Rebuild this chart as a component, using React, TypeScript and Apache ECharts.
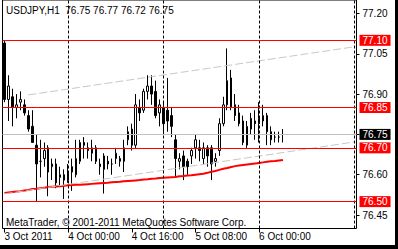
import React, { useEffect, useRef } from "react";
import * as echarts from "echarts";

const FONT = "'Liberation Sans', Arial, sans-serif";

// hourly bars starting 3 Oct 2011 08:00 (89 slots incl. chart shift)
const N_SLOTS = 89;
const CATEGORIES: string[] = [];
for (let i = 0; i < N_SLOTS; i++) CATEGORIES.push("bar " + i);

const X_TICK_INDEX = [0, 16, 32, 48, 64];
const X_TICK_LABELS = ["3 Oct 2011", "4 Oct 00:00", "4 Oct 16:00", "5 Oct 08:00", "6 Oct 00:00"];
const SEPARATORS = [16, 40, 64, 88];

const Y_LABELS = [76.45, 76.6, 76.9, 77.05, 77.2];
const Y_TICKS = [76.45, 76.6, 76.75, 76.9, 77.05, 77.2];
const Y_MIN = 76.4;
const Y_MAX = 77.25;

const LEVELS = [77.1, 76.85, 76.7, 76.5];
const BID = 76.75;
const UPPER_TREND = [[6, 76.897], [88, 77.076]];
const LOWER_TREND = [[0, 76.529], [88, 76.722]];

const OPEN = [
  77.09, 76.88, 76.89, 76.85, 76.87, 76.86, 76.82, 76.78, 76.71, 76.65,
  76.66, 76.70, 76.63, 76.64, 76.59, 76.60, 76.58, 76.61, 76.60, 76.65,
  76.72, 76.70, 76.68, 76.70, 76.64, 76.62, 76.65, 76.64, 76.66, 76.66,
  76.65, 76.73, 76.77, 76.71, 76.85, 76.84, 76.91, 76.93, 76.91, 76.83,
  76.85, 76.84, 76.82, 76.73, 76.65, 76.67, 76.65, 76.67, 76.70, 76.70,
  76.66, 76.70, 76.70, 76.65, 76.69, 76.79, 76.86, 76.96, 76.86, 76.83,
  76.80, 76.71, 76.77, 76.80, 76.79, 76.80, 76.82, 76.76, 76.74, 76.74,
  76.75,
];
const CLOSE = [
  76.88, 76.93, 76.85, 76.86, 76.88, 76.83, 76.77, 76.72, 76.64, 76.65,
  76.69, 76.61, 76.64, 76.57, 76.60, 76.58, 76.61, 76.63, 76.66, 76.72,
  76.71, 76.69, 76.70, 76.65, 76.63, 76.67, 76.64, 76.64, 76.68, 76.65,
  76.70, 76.76, 76.71, 76.86, 76.83, 76.91, 76.93, 76.90, 76.82, 76.86,
  76.79, 76.80, 76.78, 76.66, 76.66, 76.63, 76.63, 76.69, 76.73, 76.69,
  76.70, 76.67, 76.64, 76.66, 76.79, 76.86, 76.95, 76.85, 76.82, 76.79,
  76.72, 76.78, 76.81, 76.79, 76.81, 76.82, 76.76, 76.73, 76.74, 76.74,
  76.75,
];
const LOW = [
  76.87, 76.80, 76.78, 76.81, 76.84, 76.82, 76.76, 76.72, 76.50, 76.59,
  76.63, 76.52, 76.58, 76.55, 76.56, 76.51, 76.57, 76.54, 76.59, 76.64,
  76.66, 76.66, 76.65, 76.64, 76.60, 76.53, 76.62, 76.60, 76.64, 76.63,
  76.61, 76.71, 76.69, 76.70, 76.80, 76.83, 76.88, 76.86, 76.81, 76.78,
  76.75, 76.76, 76.74, 76.59, 76.62, 76.58, 76.60, 76.64, 76.66, 76.65,
  76.64, 76.63, 76.58, 76.63, 76.67, 76.78, 76.84, 76.84, 76.80, 76.78,
  76.71, 76.70, 76.75, 76.73, 76.72, 76.78, 76.71, 76.71, 76.72, 76.72,
  76.72,
];
const HIGH = [
  77.10, 76.97, 76.92, 76.90, 76.91, 76.88, 76.84, 76.84, 76.75, 76.73,
  76.72, 76.71, 76.66, 76.66, 76.63, 76.62, 76.64, 76.66, 76.73, 76.73,
  76.74, 76.72, 76.73, 76.71, 76.66, 76.68, 76.67, 76.66, 76.70, 76.67,
  76.73, 76.78, 76.79, 76.90, 76.88, 76.92, 76.97, 76.97, 76.95, 76.88,
  76.87, 76.96, 76.85, 76.75, 76.68, 76.69, 76.66, 76.70, 76.75, 76.73,
  76.72, 76.71, 76.71, 76.68, 76.81, 76.89, 77.07, 76.99, 76.90, 76.86,
  76.82, 76.80, 76.83, 76.84, 76.87, 76.86, 76.83, 76.78, 76.76, 76.76,
  76.77,
];
const MA = [
  76.532, 76.534, 76.536, 76.538, 76.539, 76.541, 76.543, 76.547, 76.548, 76.550,
  76.552, 76.554, 76.555, 76.556, 76.557, 76.559, 76.561, 76.562, 76.563, 76.563,
  76.564, 76.565, 76.566, 76.567, 76.568, 76.569, 76.570, 76.572, 76.573, 76.574,
  76.576, 76.577, 76.578, 76.579, 76.580, 76.582, 76.583, 76.585, 76.586, 76.588,
  76.589, 76.590, 76.591, 76.592, 76.594, 76.595, 76.597, 76.598, 76.600, 76.602,
  76.604, 76.607, 76.611, 76.614, 76.618, 76.622, 76.625, 76.629, 76.632, 76.634,
  76.636, 76.638, 76.640, 76.642, 76.644, 76.646, 76.648, 76.650, 76.651, 76.653,
  76.655,
];

export default function App() {
  const ref = useRef<HTMLDivElement>(null);
  useEffect(() => {
    if (!ref.current) return;
    const chart = echarts.init(ref.current, undefined, { renderer: "svg" });
    const last = OPEN.length - 1;
    const candles = OPEN.map((o, i) => [o, CLOSE[i], LOW[i], HIGH[i]]);
    const boxLabel = (bg: string) => ({
      show: true,
      position: "end",
      distance: 3,
      formatter: (p: any) => Number(p.value).toFixed(2),
      color: "#fff",
      backgroundColor: bg,
      padding: [1, 3, 0, 3],
      fontSize: 10,
      lineHeight: 10,
      fontFamily: FONT,
    });
    const noLabel = { show: false };

    chart.setOption({
      animation: false,
      backgroundColor: "#fff",
      textStyle: { fontFamily: FONT },
      grid: { left: 2.5, right: 41.5, top: -9.5, bottom: 20.5, show: true, borderColor: "#000", borderWidth: 1 },
      xAxis: {
        type: "category",
        data: CATEGORIES,
        boundaryGap: true,
        axisLine: { show: false },
        axisTick: {
          show: true,
          alignWithLabel: true,
          length: 4,
          interval: (i: number) => X_TICK_INDEX.includes(i),
          lineStyle: { color: "#000" },
        },
        axisLabel: {
          interval: (i: number) => X_TICK_INDEX.includes(i),
          formatter: (_v: string, i: number) => {
            const k = X_TICK_INDEX.indexOf(i);
            return k >= 0 ? X_TICK_LABELS[k] : "";
          },
          align: "left",
          margin: 3,
          color: "#000",
          fontSize: 10,
          fontFamily: FONT,
        },
        splitLine: { show: false },
      },
      yAxis: {
        type: "value",
        position: "right",
        min: Y_MIN,
        max: Y_MAX,
        axisLine: { show: false },
        axisTick: { show: true, length: 3, customValues: Y_TICKS, lineStyle: { color: "#000" } },
        axisLabel: {
          customValues: Y_LABELS,
          formatter: (v: number) => v.toFixed(2),
          margin: 6,
          color: "#000",
          fontSize: 10,
          fontFamily: FONT,
        },
        splitLine: { show: false },
      },
      graphic: [
        {
          type: "text",
          left: 6,
          top: 5,
          style: {
            text: `USDJPY,H1  ${OPEN[last].toFixed(2)} ${HIGH[last].toFixed(2)} ${LOW[last].toFixed(2)} ${CLOSE[last].toFixed(2)}`,
            fill: "#000",
            font: `10px ${FONT}`,
          },
        },
        {
          type: "text",
          left: 6,
          top: 217,
          style: { text: "MetaTrader, © 2001-2011 MetaQuotes Software Corp.", fill: "#000", font: `10px ${FONT}` },
        },
        { type: "rect", right: 0, top: 0, shape: { width: 3, height: 249 }, style: { fill: "#000" } },
        { type: "rect", left: 0, bottom: 0, shape: { width: 398, height: 4 }, style: { fill: "#000" } },
      ],
      series: [
        {
          type: "line",
          data: [],
          z: 1,
          markLine: {
            silent: true,
            symbol: ["none", "none"],
            lineStyle: { color: "#c0c0c0", type: "solid", width: 1 },
            label: boxLabel("#000"),
            data: [{ yAxis: BID }],
          },
        },
        {
          type: "line",
          data: [],
          z: 1,
          markLine: {
            silent: true,
            symbol: ["none", "none"],
            lineStyle: { color: "#c8c8c8", type: [8, 3], width: 1 },
            label: noLabel,
            data: [
              [{ coord: UPPER_TREND[0] }, { coord: UPPER_TREND[1] }],
              [{ coord: LOWER_TREND[0] }, { coord: LOWER_TREND[1] }],
            ],
          },
        },
        {
          type: "candlestick",
          data: candles,
          barWidth: 2,
          itemStyle: { color: "#fff", color0: "#000", borderColor: "#000", borderColor0: "#000", borderWidth: 1 },
          z: 2,
        },
        {
          type: "line",
          data: MA,
          symbol: "none",
          lineStyle: { color: "#ff0000", width: 2 },
          z: 3,
        },
        {
          type: "line",
          data: [],
          z: 4,
          markLine: {
            silent: true,
            symbol: ["none", "none"],
            lineStyle: { color: "#000", type: [3, 2], width: 1 },
            label: noLabel,
            data: SEPARATORS.map((s) => ({ xAxis: s })),
          },
        },
        {
          type: "line",
          data: [],
          z: 5,
          markLine: {
            silent: true,
            symbol: ["none", "none"],
            lineStyle: { color: "#ff0000", type: "solid", width: 1 },
            label: boxLabel("#ff0000"),
            data: LEVELS.map((v) => ({ yAxis: v })),
          },
        },
      ],
    });
    return () => chart.dispose();
  }, []);
  return <div ref={ref} style={{ position: "fixed", left: 0, top: 0, width: 398, height: 249 }} />;
}
